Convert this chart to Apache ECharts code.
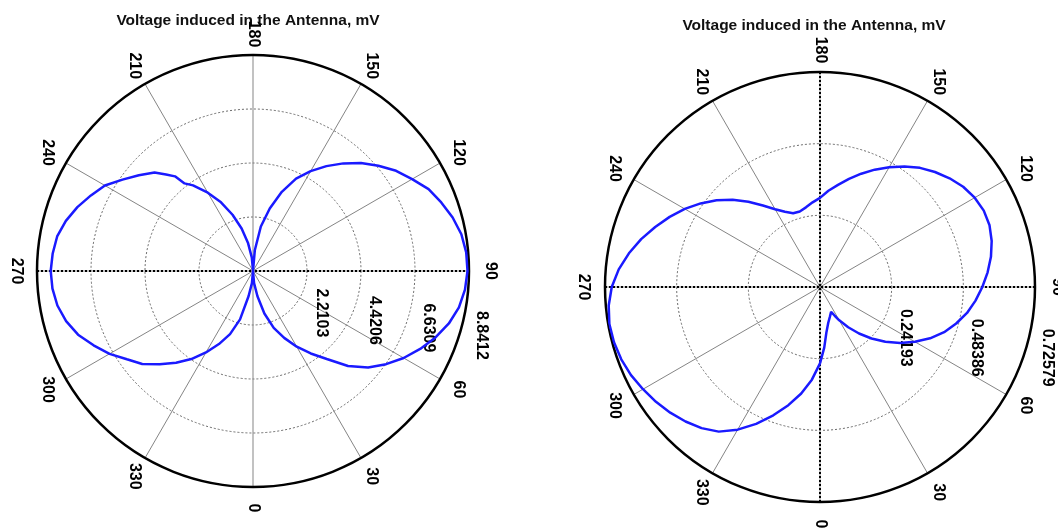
<!DOCTYPE html>
<html>
<head>
<meta charset="utf-8">
<script src="https://cdn.jsdelivr.net/npm/echarts@6.0.0/dist/echarts.min.js"></script>
<style>
html,body{margin:0;padding:0;background:#fff;}
#chart{width:1058px;height:530px;}
</style>
</head>
<body>
<div id="chart"></div>
<script>
const titleText = 'Voltage induced in the Antenna, mV';

const angleTicks = [0, 30, 60, 90, 120, 150, 180, 210, 240, 270, 300, 330];
const angleTickStep = 30;

const leftRadialTicks = ['2.2103', '4.4206', '6.6309', '8.8412'];
const leftRadialStep = 2.2103;
const leftRadialMax = 8.8412;

const rightRadialTicks = ['0.24193', '0.48386', '0.72579'];
const rightRadialStep = 0.24193;
const rightRadialMax = 0.72579;

const leftAngles = [0,5,10,15,20,25,30,35,40,45,50,55,60,65,70,75,80,85,90,95,100,105,110,115,120,125,130,135,140,145,150,155,160,165,170,175,180,
  185,190,195,200,205,210,215,218,219.5,222,225,230,235,240,245,250,255,260,265,270,275,280,285,290,295,300,305,310,315,320,325,330,335,340,345,350,355,360];
const leftValues = [0,0.5,1.05,1.8,2.48,3.02,3.58,4.12,4.70,5.50,6.15,6.65,7.12,7.55,7.95,8.30,8.56,8.71,8.78,8.76,8.66,8.46,8.20,7.93,7.52,7.15,6.70,6.25,5.75,5.24,4.72,4.17,3.45,2.65,1.85,0.85,0,
  0.55,1.15,1.80,2.45,3.10,3.70,4.28,4.55,5.02,5.32,5.70,6.10,6.52,7.00,7.32,7.65,7.93,8.14,8.23,8.28,8.24,8.13,7.92,7.62,7.20,6.78,6.30,5.92,5.40,4.90,4.40,3.85,3.30,2.75,2.05,1.05,0.5,0];

const rightAngles = [0,4,8,13,18,24,27,30,35,40,45,50,55,60,65,70,75,80,85,90,95,100,105,110,115,120,125,130,135,140,145,150,155,160,165,170,175,180,
  185,190,195,200,205,210,215,220,225,230,235,240,245,250,255,260,265,270,275,280,285,290,295,300,305,310,315,320,325,330,335,340,345,350,355,360];
const rightValues = [0.258,0.205,0.155,0.124,0.107,0.092,0.108,0.130,0.166,0.205,0.246,0.288,0.330,0.370,0.410,0.446,0.476,0.504,0.527,0.548,0.568,0.586,0.600,0.609,0.610,0.603,0.590,0.571,0.549,0.525,0.497,0.467,0.437,0.407,0.378,0.350,0.326,0.301,
  0.287,0.273,0.264,0.265,0.280,0.303,0.336,0.376,0.417,0.456,0.492,0.527,0.560,0.592,0.625,0.655,0.682,0.703,0.716,0.722,0.720,0.714,0.704,0.690,0.676,0.660,0.642,0.622,0.596,0.556,0.510,0.461,0.413,0.365,0.314,0.258];

const FONT = 'Liberation Sans, Arial, sans-serif';
const LEFT_CENTER = [253, 271], LEFT_R = 216;
const RIGHT_CENTER = [820, 287], RIGHT_R = 215;
const LABEL_GAP = 21;
const RADIAL_LABEL_SHIFT = [16, 2];

function pairs(angles, values) {
  return values.map((v, i) => [v, angles[i]]);
}
function shifted(c) { return [c[0] + RADIAL_LABEL_SHIFT[0], c[1] + RADIAL_LABEL_SHIFT[1]]; }

function mainAngleAxis(pi) {
  return {
    polarIndex: pi, type: 'value', min: 0, max: 360, interval: angleTickStep,
    startAngle: -90, clockwise: false,
    axisLine: { show: true, lineStyle: { color: '#000', width: 2.5 } },
    axisTick: { show: false },
    axisLabel: { show: false },
    splitLine: { show: true, lineStyle: { color: '#858585', width: 1 } }
  };
}
function crossAngleAxis(pi, step) {
  return {
    polarIndex: pi, type: 'value', min: 0, max: 360, interval: step,
    startAngle: 0, clockwise: false,
    axisLine: { show: false }, axisTick: { show: false }, axisLabel: { show: false },
    splitLine: { show: true, lineStyle: { color: '#000', width: 2, type: [2, 2] } }
  };
}
function hiddenAngleAxis(pi, start) {
  return {
    polarIndex: pi, type: 'value', min: 0, max: 360, startAngle: start, clockwise: false,
    axisLine: { show: false }, axisTick: { show: false }, axisLabel: { show: false }, splitLine: { show: false }
  };
}
function mainRadiusAxis(pi, max, step) {
  return {
    polarIndex: pi, type: 'value', min: 0, max: max, interval: step,
    axisLine: { show: false }, axisTick: { show: false }, axisLabel: { show: false },
    splitLine: { show: true, lineStyle: { color: '#6a6a6a', width: 1, type: [2, 2] } }
  };
}
function hiddenRadiusAxis(pi) {
  return {
    polarIndex: pi, type: 'value', min: 0, max: 1,
    axisLine: { show: false }, axisTick: { show: false }, axisLabel: { show: false }, splitLine: { show: false }
  };
}
function labelRadiusAxis(pi, max, step, ticks, margin) {
  return {
    polarIndex: pi, type: 'value', min: 0, max: max, interval: step,
    axisLine: { show: false }, axisTick: { show: false }, splitLine: { show: false },
    axisLabel: {
      show: true, rotate: -90, align: 'left', verticalAlign: 'middle', margin: margin,
      fontSize: 16, fontWeight: 'bold', color: '#000', fontFamily: FONT,
      formatter: v => {
        const k = Math.round(v / step);
        return k >= 1 ? (ticks[k - 1] || '') : '';
      }
    }
  };
}
function angleLabelSeries(pi) {
  return {
    type: 'scatter', coordinateSystem: 'polar', polarIndex: pi, clip: false, silent: true,
    symbol: 'circle', symbolSize: 1, itemStyle: { color: '#fff', opacity: 1 },
    data: angleTicks.map(a => [1, a]),
    label: {
      show: true, position: 'inside', rotate: -90, align: 'center', verticalAlign: 'middle',
      fontSize: 16, fontWeight: 'bold', color: '#000', opacity: 1,
      textBorderWidth: 0, textBorderColor: 'transparent', fontFamily: FONT,
      formatter: p => String(p.value[1])
    },
    emphasis: { disabled: true },
    z: 6
  };
}

const chart = echarts.init(document.getElementById('chart'), null, { renderer: 'canvas' });
chart.setOption({
  backgroundColor: '#fff',
  animation: false,
  title: [
    { text: titleText, left: 243, top: 8, textAlign: 'center',
      textStyle: { fontSize: 15.5, fontWeight: 'bold', color: '#111', fontFamily: FONT } },
    { text: titleText, left: 809, top: 13, textAlign: 'center',
      textStyle: { fontSize: 15.5, fontWeight: 'bold', color: '#111', fontFamily: FONT } }
  ],
  polar: [
    { center: LEFT_CENTER, radius: LEFT_R },
    { center: LEFT_CENTER, radius: LEFT_R },
    { center: shifted(LEFT_CENTER), radius: LEFT_R },
    { center: RIGHT_CENTER, radius: RIGHT_R },
    { center: RIGHT_CENTER, radius: RIGHT_R },
    { center: shifted(RIGHT_CENTER), radius: RIGHT_R },
    { center: LEFT_CENTER, radius: LEFT_R + LABEL_GAP },
    { center: RIGHT_CENTER, radius: RIGHT_R + LABEL_GAP + 1 }
  ],
  angleAxis: [
    mainAngleAxis(0), crossAngleAxis(1, 180), hiddenAngleAxis(2, -8),
    mainAngleAxis(3), crossAngleAxis(4, 90), hiddenAngleAxis(5, -8),
    hiddenAngleAxis(6, -90), hiddenAngleAxis(7, -90)
  ],
  radiusAxis: [
    mainRadiusAxis(0, leftRadialMax, leftRadialStep), hiddenRadiusAxis(1),
    labelRadiusAxis(2, leftRadialMax, leftRadialStep, leftRadialTicks, -8),
    mainRadiusAxis(3, rightRadialMax, rightRadialStep), hiddenRadiusAxis(4),
    labelRadiusAxis(5, rightRadialMax, rightRadialStep, rightRadialTicks, -10),
    hiddenRadiusAxis(6), hiddenRadiusAxis(7)
  ],
  series: [
    { type: 'line', coordinateSystem: 'polar', polarIndex: 0, data: pairs(leftAngles, leftValues),
      showSymbol: false, lineStyle: { color: '#1a1aff', width: 2.5 }, z: 5 },
    { type: 'line', coordinateSystem: 'polar', polarIndex: 3, data: pairs(rightAngles, rightValues),
      showSymbol: false, lineStyle: { color: '#1a1aff', width: 2.5 }, z: 5 },
    angleLabelSeries(6),
    angleLabelSeries(7)
  ]
});
</script>
</body>
</html>
